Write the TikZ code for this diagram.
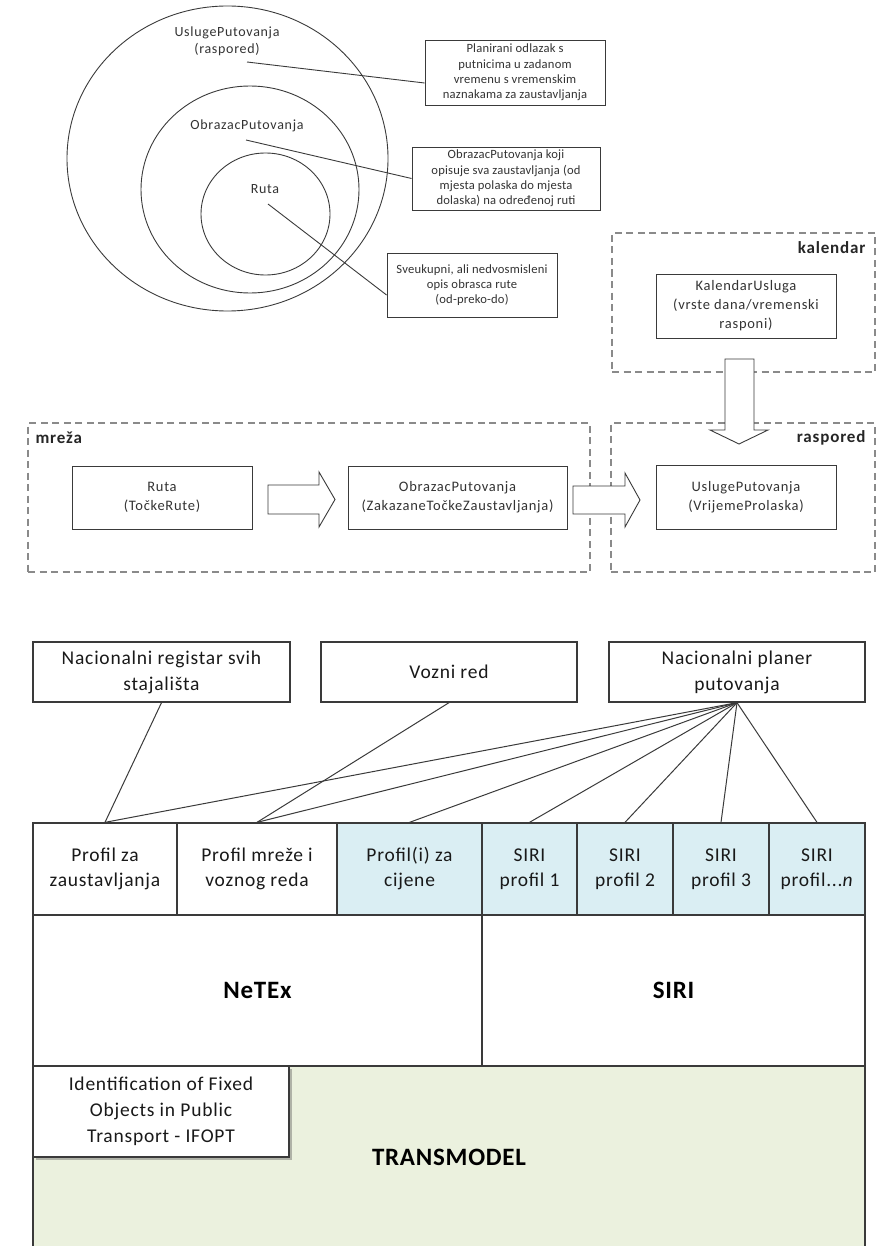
\documentclass[tikz,border=0pt]{standalone}
\usepackage{fontspec}
\setmainfont{Carlito}
\newfontfamily\lsCirc{Carlito}[LetterSpace=5]
\newfontfamily\lsCall{Carlito}[LetterSpace=1.5]
\newfontfamily\lsBox{Carlito}[LetterSpace=5]
\newfontfamily\lsBot{Carlito}[LetterSpace=4]
\newfontfamily\lsBig{Carlito}[LetterSpace=3]
\usetikzlibrary{shapes.geometric,shadows}
\definecolor{lineC}{HTML}{3A3A3A}
\definecolor{dashC}{HTML}{8A8A8A}
\definecolor{blueC}{HTML}{DAEEF3}
\definecolor{greenC}{HTML}{EBF1DE}
\definecolor{txtC}{HTML}{333333}
\begin{document}
\begin{tikzpicture}[x=1pt,y=-1pt,
  circ/.style={ellipse, draw=lineC, line width=0.9pt, inner sep=0pt},
  ctext/.style={text=txtC, align=center, font=\lsCirc\fontsize{14}{17}\selectfont},
  callout/.style={draw=lineC, line width=0.9pt, fill=white, align=center, inner sep=0pt, text=txtC, font=\lsCall\fontsize{12.6}{15.2}\selectfont},
  dbox/.style={draw=dashC, line width=1.4pt, dash pattern=on 7pt off 4.5pt, inner sep=0pt},
  grouplabel/.style={font=\lsBox\fontsize{17}{20}\bfseries\selectfont, text=black!85},
  mbox/.style={draw=lineC, line width=0.9pt, fill=white, align=center, inner sep=0pt, text=txtC, font=\lsBox\fontsize{14.5}{19}\selectfont},
  blockarrow/.style={draw=lineC, line width=0.9pt, fill=white},
  lnk/.style={draw=lineC, line width=0.9pt},
  bbox/.style={draw=lineC, line width=1.3pt, fill=white, align=center, inner sep=0pt, text=black!90, font=\lsBot\fontsize{19.5}{26}\selectfont},
  cell/.style={draw=lineC, line width=1.3pt, align=center, inner sep=0pt, minimum height=92, text=black!90, font=\lsBot\fontsize{19.5}{25}\selectfont},
  big/.style={font=\lsBig\fontsize{25}{30}\bfseries\selectfont, text=black},
  blnk/.style={draw=lineC, line width=1pt}
]
\useasboundingbox (0,0) rectangle (881,1246);

% ---------- circles ----------
\node[circ, minimum width=321, minimum height=305] (outer) at (227.5,158.5) {};
\node[circ, minimum width=218, minimum height=207] (middle) at (250,189.5) {};
\node[circ, minimum width=129, minimum height=122] (inner) at (265.5,214) {};
\node[ctext] (tUP) at (227,41) {UslugePutovanja\\(raspored)};
\node[ctext] (tOP) at (247,126) {ObrazacPutovanja};
\node[ctext] (tR) at (265,189) {Ruta};

% ---------- callouts ----------
\node[callout, minimum width=180, minimum height=65] (b1) at (515,72.5)
  {Planirani odlazak s\\putnicima u zadanom\\vremenu s vremenskim\\naznakama za zaustavljanja};
\node[callout, minimum width=188, minimum height=63] (b2) at (506,178.5)
  {ObrazacPutovanja koji\\opisuje sva zaustavljanja (od\\mjesta polaska do mjesta\\dolaska) na određenoj ruti};
\node[callout, minimum width=170, minimum height=64] (b3) at (472,285)
  {Sveukupni, ali nedvosmisleni\\opis obrasca rute\\(od-preko-do)};
\coordinate (s1) at (247,62);
\coordinate (s2) at (246,140);
\coordinate (s3) at (268,204);
\draw[lnk] (s1) -- ([yshift=-10.5pt]b1.west);
\draw[lnk] (s2) -- (b2.west);
\draw[lnk] (s3) -- ([yshift=-10pt]b3.west);

% ---------- kalendar / raspored / mreza ----------
\node[dbox, minimum width=263, minimum height=139] (kal) at (743.5,302.5) {};
\node[grouplabel, anchor=east] (kalL) at (869,248) {kalendar};
\node[mbox, minimum width=180, minimum height=64] (ku) at (746,306) {KalendarUsluga\\(vrste dana/vremenski\\rasponi)};

\node[dbox, minimum width=264, minimum height=149] (ras) at (743,497.5) {};
\node[grouplabel, anchor=east] (rasL) at (869,438) {raspored};
\node[mbox, minimum width=180, minimum height=64] (up) at (746,497) {UslugePutovanja\\(VrijemeProlaska)};

\node[dbox, minimum width=562, minimum height=149] (mre) at (309,497.5) {};
\node[grouplabel, anchor=west] (mreL) at (32,438) {mreža};
\node[mbox, minimum width=180, minimum height=63] (ruta) at (162,497.5) {Ruta\\(TočkeRute)};
\node[mbox, minimum width=219, minimum height=63] (obr) at (457.5,497.5) {ObrazacPutovanja\\(ZakazaneTočkeZaustavljanja)};

% block arrows
\draw[blockarrow] (268,485) -- (319,485) -- (319,472) -- (335,499.5) -- (319,527) -- (319,514) -- (268,514) -- cycle;
\draw[blockarrow] (573,486) -- (625,486) -- (625,473) -- (640,500) -- (625,527) -- (625,514) -- (573,514) -- cycle;
\draw[blockarrow] (725,359) -- (754,359) -- (754,430) -- (768,430) -- (739,444) -- (710,430) -- (725,430) -- cycle;

% ---------- bottom stack ----------
\fill[greenC] (33,1066) rectangle (865,1250);
\draw[lineC, line width=1.3pt] (33,1250) -- (33,1066) -- (865,1066) -- (865,1250);
\node[big] (tm) at (449,1157) {TRANSMODEL};
\node[bbox, minimum width=256, minimum height=91, drop shadow={shadow xshift=3pt, shadow yshift=-3pt, opacity=0.45, fill=black!60}] (ifopt) at (161,1111.5)
  {Identification of Fixed\\Objects in Public\\Transport - IFOPT};

\node[bbox, minimum width=449, minimum height=151] (netex) at (257.5,990.5) {};
\node[big] at (netex.center) {NeTEx};
\node[bbox, minimum width=383, minimum height=151] (siri) at (673.5,990.5) {};
\node[big] at (siri.center) {SIRI};

\node[cell, minimum width=144, fill=white] (c1) at (105,869) {Profil za\\zaustavljanja};
\node[cell, minimum width=160, fill=white] (c2) at (257,869) {Profil mreže i\\voznog reda};
\node[cell, minimum width=145, fill=blueC] (c3) at (409.5,869) {Profil(i) za\\cijene};
\node[cell, minimum width=95, fill=blueC] (c4) at (529.5,869) {SIRI\\profil 1};
\node[cell, minimum width=96, fill=blueC] (c5) at (625,869) {SIRI\\profil 2};
\node[cell, minimum width=96, fill=blueC] (c6) at (721,869) {SIRI\\profil 3};
\node[cell, minimum width=96, fill=blueC] (c7) at (817,869) {SIRI\\profil...\textit{n}};

\node[bbox, minimum width=257, minimum height=60] (reg) at (161.5,672) {Nacionalni registar svih\\stajališta};
\node[bbox, minimum width=256, minimum height=60] (vr) at (449,672) {Vozni red};
\node[bbox, minimum width=256, minimum height=60] (pl) at (737,672) {Nacionalni planer\\putovanja};

\draw[blnk] (reg.south) -- (c1.north);
\draw[blnk] (vr.south) -- (c2.north);
\foreach \c in {c1,c2,c3,c4,c5,c6,c7} {\draw[blnk] (pl.south) -- (\c.north);}
\end{tikzpicture}
\end{document}
